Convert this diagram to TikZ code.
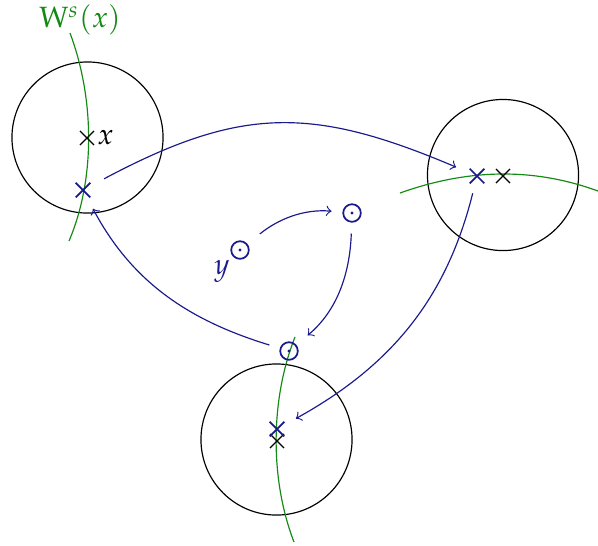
\documentclass[tikz,border=0pt]{standalone}
\usepackage{mathpazo}
\usepackage{tikz}
\usetikzlibrary{shapes.misc}
\definecolor{orbc}{HTML}{1A1A8C}
\definecolor{leafc}{HTML}{138A13}
\tikzset{
  ar/.style={->,orbc},
  xmark/.style={cross out,draw,inner sep=0pt,minimum size=4.4pt},
  bmark/.style={xmark,draw=orbc,semithick},
  opt/.style={circle,draw=orbc,semithick,inner sep=0pt,minimum size=6pt,
    path picture={\fill[orbc] (path picture bounding box.center) circle (0.55pt);}},
  leaf/.style={leafc}
}
\begin{document}
\begin{tikzpicture}[x=0.012cm,y=-0.012cm]
\useasboundingbox (0,0) rectangle (598,545);
% the three balls
\draw (87.5,137.5) circle[radius=0.906cm];
\draw (503,175) circle[radius=0.906cm];
\draw (276.5,439.5) circle[radius=0.906cm];
% stable leaves
\draw[leaf] (70,33) .. controls (95,100) and (95,180) .. (69,241);
\draw[leaf] (400,193) .. controls (470,168) and (535,168) .. (598,191);
\draw[leaf] (295,337) .. controls (270,400) and (270,480) .. (294,542);
\node[leafc] (ws) at (80,20) {$\mathrm{W}^s(x)$};
% points
\node[xmark,label={[inner sep=1pt]right:$x$}] (x1) at (87,138) {};
\node[xmark] (x2) at (503,176) {};
\node[xmark] (x3) at (277,441) {};
\node[bmark] (b1) at (83,190) {};
\node[bmark] (b2) at (477,176) {};
\node[bmark] (b3) at (277,429) {};
\node[opt,label={[orbc,inner sep=1pt]below left:$y$}] (y) at (240,250) {};
\node[opt] (p2) at (352,213) {};
\node[opt] (p3) at (289,351) {};
% orbits
\draw[ar,shorten <=5.3pt,shorten >=5pt] (b1) to[out=28,in=157,looseness=1.15] (b2);
\draw[ar,shorten <=3.5pt,shorten >=4.5pt] (b2) to[out=-104,in=29] (b3);
\draw[ar,shorten <=3.7pt,shorten >=4.4pt] (p3) to[out=163,in=-62] (b1);
\draw[ar,shorten <=5.4pt,shorten >=3.7pt] (y) to[out=39,in=175] (p2);
\draw[ar,shorten <=3.7pt,shorten >=5pt] (p2) to[out=-92,in=40] (p3);
\end{tikzpicture}
\end{document}
